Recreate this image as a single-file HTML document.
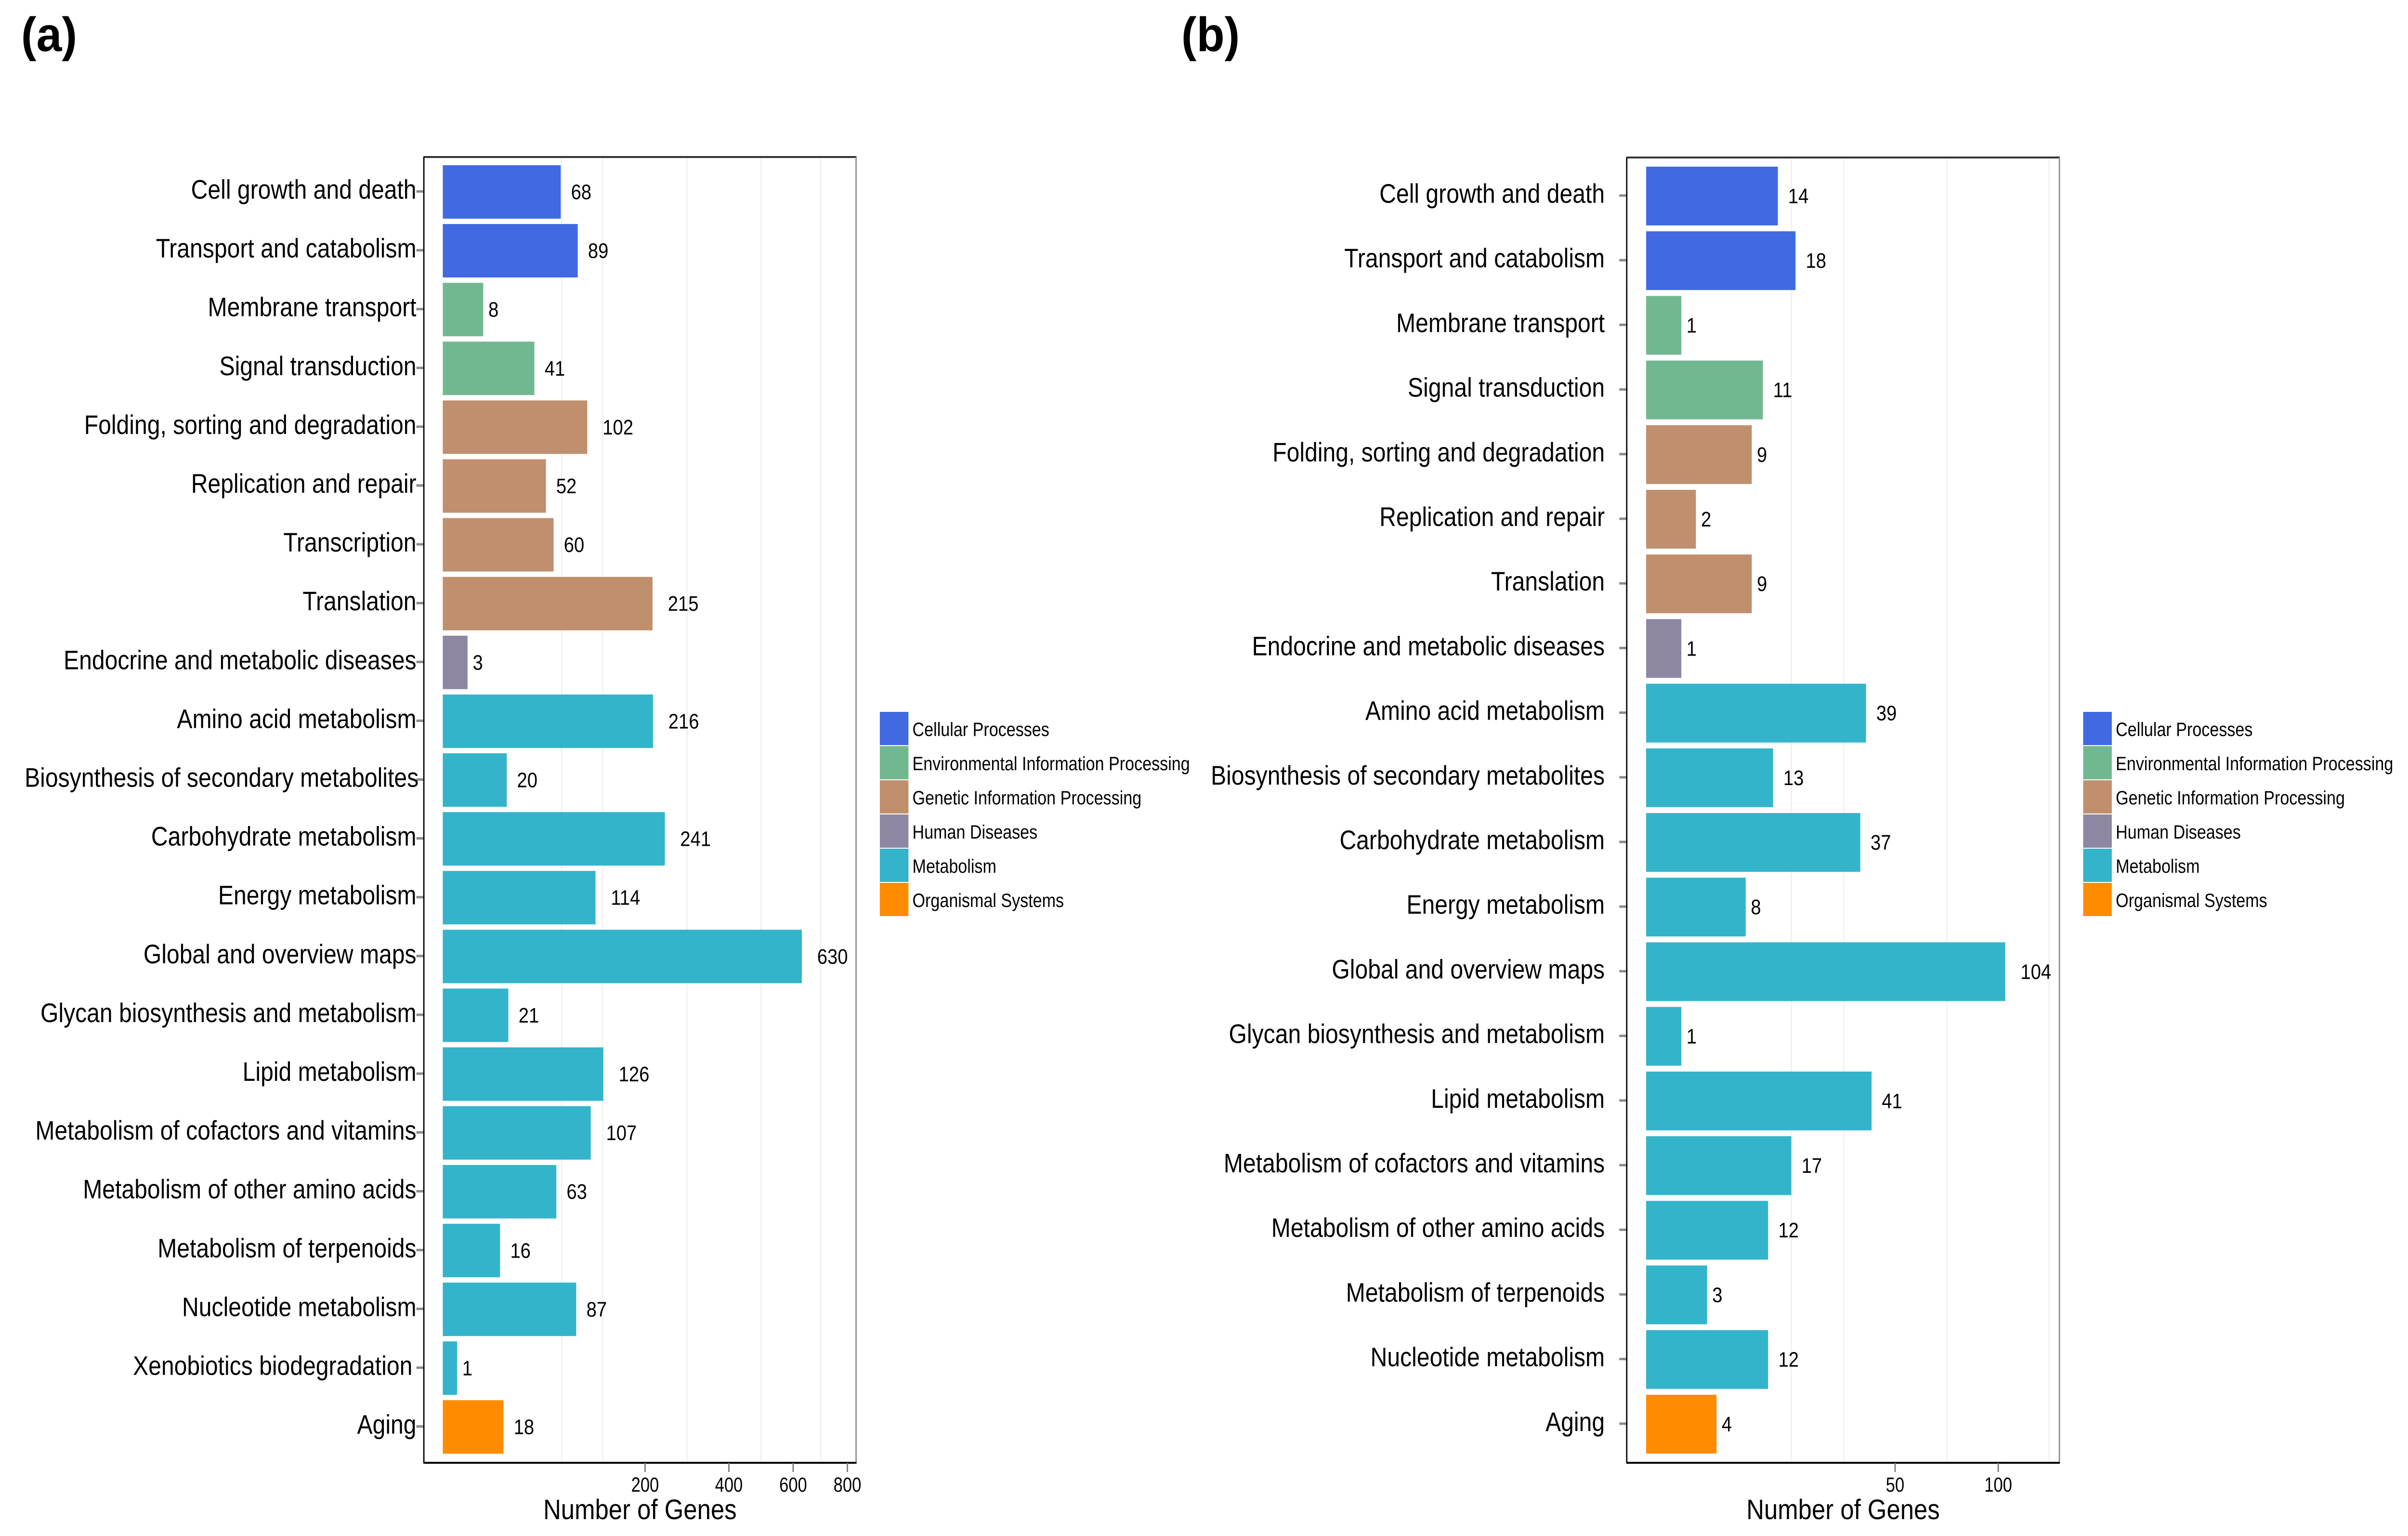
<!DOCTYPE html>
<html lang="en">
<head>
<meta charset="utf-8">
<title>KEGG pathway gene counts</title>
<style>
html,body{margin:0;padding:0;background:#fff;overflow:hidden;width:100%;height:100%;}
svg{display:block;width:100vw;height:100vh;font-family:"Liberation Sans",Arial,sans-serif;}
</style>
</head>
<body>
<svg id="figure" xmlns="http://www.w3.org/2000/svg" viewBox="0 0 5471 3189" preserveAspectRatio="none">
  <rect x="0" y="0" width="5471" height="3189" fill="#ffffff"/>
  <text transform="translate(48,106) scale(1.04,1)" font-size="100" font-weight="bold" fill="#000">(a)</text>
  <text transform="translate(2684,106) scale(1.04,1)" font-size="100" font-weight="bold" fill="#000">(b)</text>
</svg>
<script>
// ---------- chart data ----------
const groupNames = ["Cellular Processes","Environmental Information Processing","Genetic Information Processing","Human Diseases","Metabolism","Organismal Systems"];
const groupColors = ["#4169e1","#71b891","#bf8f6e","#8d87a3","#33b4ca","#ff8c00"];

const categoriesA = ["Cell growth and death","Transport and catabolism","Membrane transport","Signal transduction","Folding, sorting and degradation","Replication and repair","Transcription","Translation","Endocrine and metabolic diseases","Amino acid metabolism","Biosynthesis of secondary metabolites","Carbohydrate metabolism","Energy metabolism","Global and overview maps","Glycan biosynthesis and metabolism","Lipid metabolism","Metabolism of cofactors and vitamins","Metabolism of other amino acids","Metabolism of terpenoids","Nucleotide metabolism","Xenobiotics biodegradation","Aging"];
const groupIndexA = [0,0,1,1,2,2,2,2,3,4,4,4,4,4,4,4,4,4,4,4,4,5];
const valuesA = [68,89,8,41,102,52,60,215,3,216,20,241,114,630,21,126,107,63,16,87,1,18];
const ticksA = [200,400,600,800];
const minorGridA = [69,125,292,495,698];

const categoriesB = ["Cell growth and death","Transport and catabolism","Membrane transport","Signal transduction","Folding, sorting and degradation","Replication and repair","Translation","Endocrine and metabolic diseases","Amino acid metabolism","Biosynthesis of secondary metabolites","Carbohydrate metabolism","Energy metabolism","Global and overview maps","Glycan biosynthesis and metabolism","Lipid metabolism","Metabolism of cofactors and vitamins","Metabolism of other amino acids","Metabolism of terpenoids","Nucleotide metabolism","Aging"];
const groupIndexB = [0,0,1,1,2,2,2,3,4,4,4,4,4,4,4,4,4,4,4,5];
const valuesB = [14,18,1,11,9,2,9,1,39,13,37,8,104,1,41,17,12,3,12,4];
const ticksB = [50,100];
const minorGridB = [17,31.5,73,131];

const xTitle = "Number of Genes";

// ---------- drawing ----------
const NS = "http://www.w3.org/2000/svg";
const svg = document.getElementById("figure");

function shape(parent, tag, attrs) {
  const el = document.createElementNS(NS, tag);
  for (const k in attrs) el.setAttribute(k, attrs[k]);
  parent.appendChild(el);
  return el;
}
function label(parent, str, x, y, size, anchor, sx) {
  const el = document.createElementNS(NS, "text");
  el.setAttribute("transform", "translate(" + x + "," + y + ") scale(" + sx + ",1)");
  el.setAttribute("font-size", size);
  el.setAttribute("text-anchor", anchor);
  el.setAttribute("fill", "#000");
  el.textContent = str;
  parent.appendChild(el);
  return el;
}

function drawPanel(p) {
  const g = shape(svg, "g", {});
  
  

  const xScale = v => p.x0 + p.slope * Math.sqrt(v);
  const yTop = i => p.barTop + i * p.pitch;

  p.minor.forEach(v => {
    const gl = shape(g, "line", {x1:xScale(v), x2:xScale(v), y1:p.top, y2:p.bottom, stroke:"#eeeeee", "stroke-width":2.5});
    
    
  });

  p.values.forEach((v, i) => {
    const c = p.cats[i];
    const y = yTop(i);
    const mid = y + p.barH / 2;

    const bar = shape(g, "rect", {x:p.x0, y:y, width:xScale(v) - p.x0, height:p.barH, fill:groupColors[p.groups[i]]});
    
    

    const s = String(v);
    const vl = label(g, s, xScale(v) + s.length * 0.556 * 44 * 0.95 * 0.5, mid + 15, 44, "start", 0.95);
    
    

    const tk = shape(g, "line", {x1:p.left - 17, x2:p.left, y1:mid - 1, y2:mid - 1, stroke:"#8a8a8a", "stroke-width":5});
    
    

    const cl = label(g, c, p.labelEnd + (p.nudge[c] || 0), mid + 14, 56, "end", 0.94);
    
    
  });

  const top = shape(g, "line", {x1:p.left - 1, x2:p.right + 1, y1:p.top, y2:p.top, stroke:"#333333", "stroke-width":4});
  
  
  const right = shape(g, "line", {x1:p.right, x2:p.right, y1:p.top, y2:p.bottom, stroke:"#8c8c8c", "stroke-width":3});
  
  
  const left = shape(g, "line", {x1:p.left, x2:p.left, y1:p.top, y2:p.bottom, stroke:"#000000", "stroke-width":3});
  
  
  const bottom = shape(g, "line", {x1:p.left - 1, x2:p.right + 1, y1:p.bottom, y2:p.bottom, stroke:"#000000", "stroke-width":4});
  
  

  p.ticks.forEach(v => {
    const tk = shape(g, "line", {x1:xScale(v), x2:xScale(v), y1:p.bottom, y2:p.bottom + 19, stroke:"#777777", "stroke-width":3});
    
    
    const tl = label(g, String(v), xScale(v), 3097, 43, "middle", 0.88);
    
    
  });

  const title = label(g, xTitle, (p.left + p.right) / 2, 3154, 58, "middle", 0.96);
  
  

  const lg = shape(g, "g", {});
  
  
  groupNames.forEach((n, i) => {
    const y = 1477 + i * 71;
    const sw = shape(lg, "rect", {x:p.legendX, y:y + 1, width:65, height:69, fill:groupColors[i]});
    
    
    const t = label(lg, n, p.legendX + 74, y + 51, 39.5, "start", 0.945);
    
    
  });
}

drawPanel({name:"panel-a-chart", cats:categoriesA, groups:groupIndexA, values:valuesA, ticks:ticksA, minor:minorGridA,
  left:963, right:1945, top:326, bottom:3037, x0:1006, slope:32.5, barTop:343, pitch:122.1, barH:111, labelEnd:946,
  nudge:{"Biosynthesis of secondary metabolites":5,"Xenobiotics biodegradation":-9}, legendX:1999});
drawPanel({name:"panel-b-chart", cats:categoriesB, groups:groupIndexB, values:valuesB, ticks:ticksB, minor:minorGridB,
  left:3696, right:4679, top:327, bottom:3037, x0:3740, slope:80, barTop:346, pitch:134.2, barH:122, labelEnd:3646,
  nudge:{}, legendX:4733});
</script>
</body>
</html>
